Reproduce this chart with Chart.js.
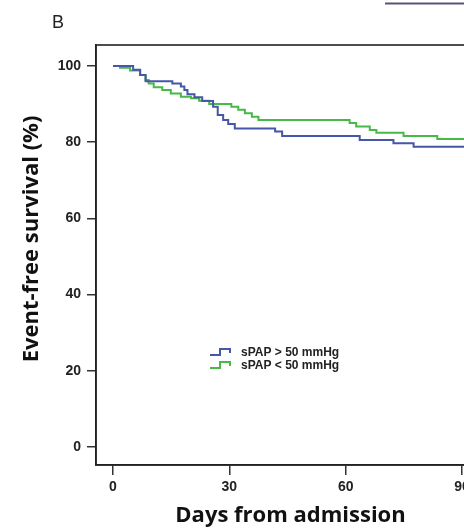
<!DOCTYPE html>
<html>
<head>
<meta charset="utf-8">
<script src="https://cdn.jsdelivr.net/npm/chart.js@4/dist/chart.umd.min.js"></script>
<style>
  html, body { margin: 0; padding: 0; background: #fff; overflow: hidden; }
  #wrap { width: 500px; height: 529px; position: relative; }
</style>
</head>
<body>
<div id="wrap"><canvas id="km"></canvas></div>
<script>
// Kaplan-Meier steps (day, survival % after the step)
const highDays = [0, 5.2, 7, 8.4, 15.3, 17.5, 18.4, 19.2, 21, 23, 25.8, 27, 28.4, 29.7, 31.4, 41.8, 43.6, 63.6, 72.3, 77.5, 91];
const highSurv = [100, 99, 97.6, 96, 95.4, 94.6, 93.7, 92.6, 91.8, 90.8, 89.3, 87.1, 85.8, 84.8, 83.6, 82.8, 81.6, 80.6, 79.7, 78.8, 77.2];

const lowDays = [0, 1.8, 4.4, 7, 8.4, 9.2, 10.5, 12.7, 14.9, 17.5, 20.1, 22.2, 24.8, 30.5, 32.3, 34, 35.8, 37.5, 61, 62.7, 66.2, 67.9, 74.9, 83.6, 91];
const lowSurv = [100, 99.5, 98.8, 97.6, 96.3, 95.4, 94.4, 93.7, 92.8, 91.9, 91.5, 90.9, 90, 89.3, 88.5, 87.6, 86.7, 85.8, 85, 84.1, 83.2, 82.5, 81.6, 80.8, 79.8];

const seriesLabels = ['sPAP > 50 mmHg', 'sPAP < 50 mmHg'];
const seriesColors = ['#4656a8', '#47b947'];

const xTicks = [0, 30, 60, 90];
const yTicks = [0, 20, 40, 60, 80, 100];

const yTitle = 'Event-free survival (%)';

const toPoints = (xs, ys) => xs.map((x, i) => ({ x, y: ys[i] }));

// frame box, panel letter, y title (sits a bit above the axis centre), inline legend
const decorPlugin = {
  id: 'decor',
  afterDraw(chart) {
    const { ctx, chartArea: a } = chart;
    ctx.save();
    ctx.strokeStyle = '#222';
    ctx.lineWidth = 1.6;
    ctx.strokeRect(a.left, a.top, a.right - a.left, a.bottom - a.top);

    ctx.fillStyle = '#222';
    ctx.font = '18px "Liberation Sans", Arial, sans-serif';
    ctx.textBaseline = 'alphabetic';
    ctx.fillText('B', 52, 28);

    ctx.save();
    ctx.translate(32, 239);
    ctx.rotate(-Math.PI / 2);
    ctx.font = 'bold 22px "Open Sans", sans-serif';
    ctx.fillStyle = '#111';
    ctx.textAlign = 'center';
    ctx.textBaseline = 'middle';
    ctx.fillText(yTitle, 0, 0);
    ctx.restore();

    // stray line from the neighbouring panel
    ctx.strokeStyle = '#5d5078';
    ctx.lineWidth = 2;
    ctx.beginPath();
    ctx.moveTo(385, 3.5);
    ctx.lineTo(500, 3.5);
    ctx.stroke();

    const lx = 210, ly = [352, 365];
    ctx.font = 'bold 12px "Liberation Sans", Arial, sans-serif';
    ctx.textBaseline = 'middle';
    seriesLabels.forEach((lbl, i) => {
      const y = ly[i];
      ctx.strokeStyle = seriesColors[i];
      ctx.lineWidth = 2;
      ctx.beginPath();
      ctx.moveTo(lx, y + 3);
      ctx.lineTo(lx + 10, y + 3);
      ctx.lineTo(lx + 10, y - 3);
      ctx.lineTo(lx + 20, y - 3);
      ctx.lineTo(lx + 20, y + 1);
      ctx.stroke();
      ctx.fillStyle = '#222';
      ctx.fillText(lbl, lx + 31, y + 1);
    });
    ctx.restore();
  },
};

new Chart(document.getElementById('km'), {
  type: 'line',
  data: {
    datasets: [
      {
        label: seriesLabels[0],
        data: toPoints(highDays, highSurv),
        borderColor: seriesColors[0],
        borderWidth: 2,
        pointRadius: 0,
        stepped: 'before',
        fill: false,
      },
      {
        label: seriesLabels[1],
        data: toPoints(lowDays, lowSurv),
        borderColor: seriesColors[1],
        borderWidth: 2,
        pointRadius: 0,
        stepped: 'before',
        fill: false,
      },
    ],
  },
  options: {
    responsive: true,
    maintainAspectRatio: false,
    animation: false,
    layout: { padding: { top: 45, right: 15, left: 0, bottom: 0 } },
    plugins: { legend: { display: false }, tooltip: { enabled: false } },
    scales: {
      x: {
        type: 'linear',
        min: -4.38,
        max: 95.9,
        afterBuildTicks: s => { s.ticks = xTicks.map(v => ({ value: v })); },
        afterFit: s => { s.height = 64; },
        grid: { drawOnChartArea: false, drawTicks: true, tickLength: 10, color: '#333', lineWidth: 1.5 },
        border: { display: true, color: '#222', width: 1.6 },
        ticks: { color: '#222', padding: 4, font: { family: '"Liberation Sans", Arial', weight: 'bold', size: 14 } },
        title: {
          display: true,
          text: 'Days from admission',
          color: '#111',
          padding: { top: 0, bottom: 0 },
          font: { family: '"Open Sans"', weight: 'bold', size: 22 },
        },
      },
      y: {
        min: -4.72,
        max: 105.5,
        afterBuildTicks: s => { s.ticks = yTicks.map(v => ({ value: v })); },
        afterFit: s => { s.width = 96; },
        grid: { drawOnChartArea: false, drawTicks: true, tickLength: 9, color: '#333', lineWidth: 1.5 },
        border: { display: true, color: '#222', width: 1.6 },
        ticks: { color: '#222', padding: 6, font: { family: '"Liberation Sans", Arial', weight: 'bold', size: 14 } },
        title: { display: false },
      },
    },
  },
  plugins: [decorPlugin],
});
</script>
</body>
</html>
